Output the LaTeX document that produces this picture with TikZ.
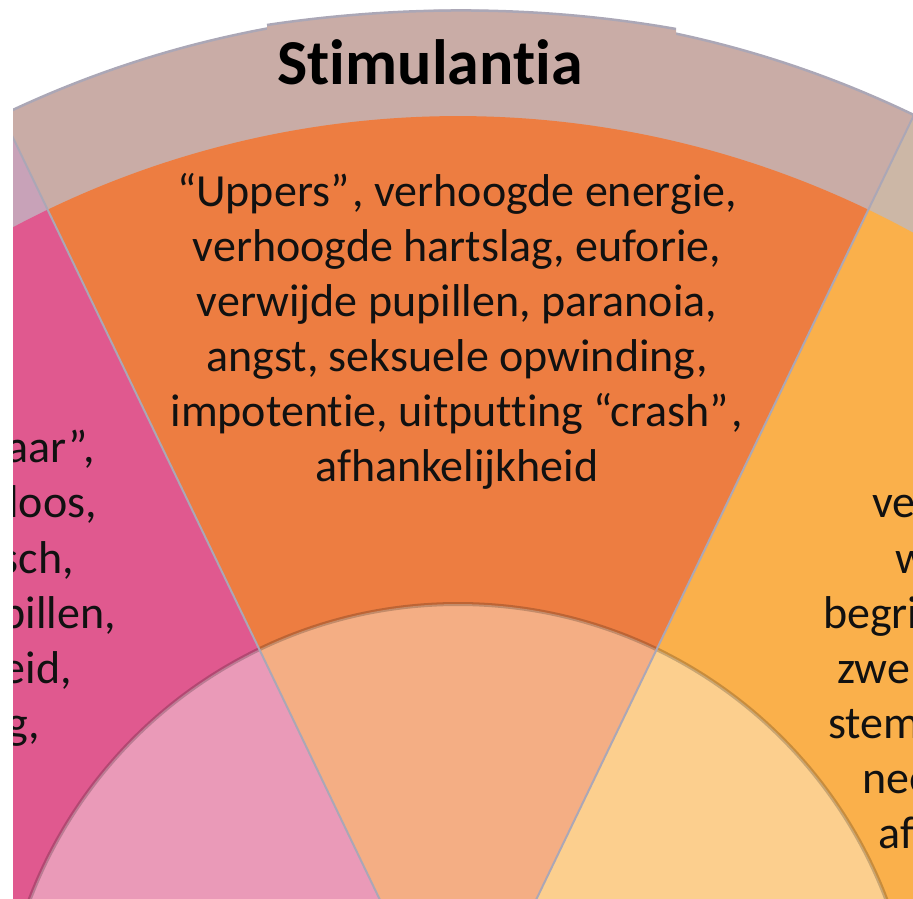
\documentclass[tikz,border=0pt]{standalone}
\usepackage{fontspec}
\setmainfont{Carlito}[Ligatures=NoCommon]
\definecolor{pinkS}{HTML}{E0598F}
\definecolor{pinkI}{HTML}{EA9AB8}
\definecolor{pinkR}{HTML}{C8A2B8}
\definecolor{oraS}{HTML}{ED7D41}
\definecolor{oraI}{HTML}{F4AE84}
\definecolor{oraR}{HTML}{C9ACA6}
\definecolor{yelS}{HTML}{FAB04B}
\definecolor{yelI}{HTML}{FCCF8E}
\definecolor{yelR}{HTML}{CCB7A6}
\definecolor{rimcol}{HTML}{ABA7B6}
\definecolor{txtcol}{HTML}{111111}
\tikzset{
  sepline/.style={draw=rimcol,line width=2pt},
  rim/.style={draw=rimcol,line width=2.5pt},
  hubline/.style={draw=black,opacity=.2,line width=4pt},
  body/.style={font=\fontsize{46}{55}\selectfont,text=txtcol,inner sep=0pt,anchor=base},
  frag/.style={body},
  titletext/.style={font=\fontsize{64}{70}\selectfont\bfseries,text=black,inner sep=0pt,anchor=base}
}
\begin{document}
\begin{tikzpicture}[x=1pt,y=1pt]
\useasboundingbox (0,0) rectangle (913,898);
\clip (13,0) rectangle (913,898);
\coordinate (C) at (458,-164);
% sectors: ring, outer part, hub
\foreach \a/\fc/\ic/\rc in {115.71/pinkS/pinkI/pinkR,64.29/oraS/oraI/oraR,12.86/yelS/yelI/yelR} {
  \fill[\rc] (C) -- ++(\a:1051) arc[start angle=\a,end angle=\a+51.43,radius=1051] -- cycle;
  \fill[\fc] (C) -- ++(\a:946) arc[start angle=\a,end angle=\a+51.43,radius=946] -- cycle;
  \fill[\ic] (C) -- ++(\a:458) arc[start angle=\a,end angle=\a+51.43,radius=458] -- cycle;
}
\draw[hubline] (C) circle[radius=458];
\foreach \a in {12.86,64.29,115.71,167.14}
  \draw[sepline] (C) -- ++(\a:1051);
\draw[rim] (C) ++(12.86:1051) arc[start angle=12.86,end angle=167.14,radius=1051];
% title piece of the ring
\coordinate (tl) at (267,873);
\coordinate (tr) at (676,869);
\fill[oraR] (tl) .. controls (400,893) and (540,893) .. (tr) -- (676,850) -- (267,850) -- cycle;
\draw[rim] (tl) .. controls (400,893) and (540,893) .. (tr);
\node[titletext] (title) at (430,813) {Stimulantia};
% text of the middle sector
\foreach \t [count=\i] in {{“Uppers”\kern3pt, verhoogde energie,},{verhoogde hartslag, euforie,},
  {verwijde pupillen, paranoia,},{angst, seksuele opwinding,},
  {impotentie, uitputting “crash”\kern3pt,},{afhankelijkheid}}
  \node[body] (body\i) at (457,{746-55*\i}) {\t};
% cut-off text of the left sector
\foreach \t/\x/\y [count=\i] in {{aar”,}/95/463,{loos,}/97/518,{sch,}/74/573,{pillen,}/116/628,{eid,}/72/683,{g,}/40/738}
  \node[frag,anchor=base east] (left\i) at (\x,898-\y) {\t};
% cut-off text of the right sector
\foreach \t/\x/\y [count=\i] in {“/911/463,ve/872/518,w/895/573,begri/823/628,zwe/837/683,stem/828/738,nee/862/793,af/878/848}
  \node[frag,anchor=base west] (right\i) at (\x,898-\y) {\t};
\end{tikzpicture}
\end{document}
